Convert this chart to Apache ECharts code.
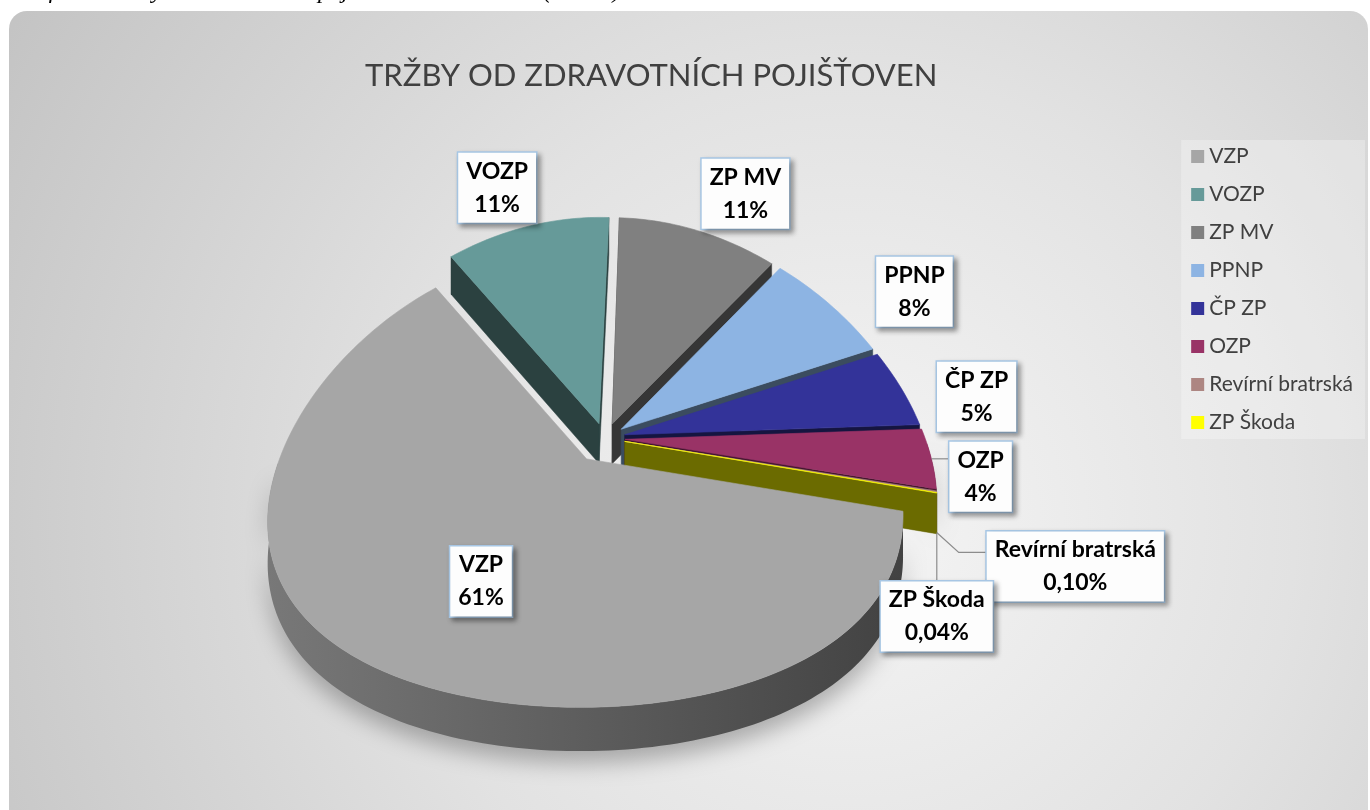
<!DOCTYPE html>
<html>
<head>
<meta charset="utf-8">
<script src="https://cdn.jsdelivr.net/npm/echarts@6.0.0/dist/echarts.min.js"></script>
<style>
html,body{margin:0;padding:0;background:#ffffff;}
#chart{width:1370px;height:810px;}
</style>
</head>
<body>
<div id="chart"></div>
<script>
// ---------------- data ----------------
const captionText = 'Graf 19 – Tržby od zdravotních pojišťoven v roce 2022 (tis. Kč)';
const titleText = 'TRŽBY OD ZDRAVOTNÍCH POJIŠŤOVEN';
const categories = ['VZP', 'VOZP', 'ZP MV', 'PPNP', 'ČP ZP', 'OZP', 'Revírní bratrská', 'ZP Škoda'];
const shares = [61.1, 10.9, 10.6, 7.8, 5.3, 4.2, 0.10, 0.04];
const colors = ['#a6a6a6', '#669a99', '#808080', '#8db4e3', '#333399', '#993366', '#ad8682', '#ffff00'];

// ---------------- 3D pie geometry ----------------
const G = {cx: 605, cy: 438, W: 300, S: 225, kx: 0.25, ky: 0.08, depth: 40, startAngle: -13,
  explode: [0.11, 0.067, 0.067, 0.067, 0.067, 0.067, 0.067, 0.067]};
const total = shares.reduce((a, b) => a + b, 0);
const slices = [];
(function () {
  let a = G.startAngle;
  shares.forEach(v => {
    const span = v / total * 360;
    slices.push({s: a, e: a - span, m: a - span / 2});
    a -= span;
  });
})();
const RAD = Math.PI / 180;
function proj(X, Z, Y) {
  const px = 1 / (1 + G.kx * Z), py = 1 / (1 + G.ky * Z);
  return [G.cx + X * G.W * px, G.cy - Z * G.S * py + (Y || 0) * G.depth * py];
}
function slicePoint(i, t, r, y) {
  const m = slices[i].m * RAD, a = t * RAD, ex = G.explode[i];
  const X = ex * Math.cos(m) + r * Math.cos(a);
  const Z = ex * Math.sin(m) + r * Math.sin(a);
  return proj(X, Z, y);
}
function arcAngles(s, e) {
  const n = Math.max(2, Math.ceil(Math.abs(s - e) / 1.2));
  const arr = [];
  for (let k = 0; k <= n; k++) arr.push(s + (e - s) * k / n);
  return arr;
}
function shade(hex, f) {
  const n = parseInt(hex.slice(1), 16);
  const r = (n >> 16) & 255, g = (n >> 8) & 255, b = n & 255;
  return 'rgb(' + Math.round(r * f) + ',' + Math.round(g * f) + ',' + Math.round(b * f) + ')';
}
// painter order: back slices first
const order = slices.map((s, i) => i).sort((a, b) => Math.sin(slices[b].m * RAD) - Math.sin(slices[a].m * RAD));
const depthRank = [];
order.forEach((idx, r) => { depthRank[idx] = r; });

function pctText(v) {
  const p = v / total * 100;
  return p >= 1 ? Math.round(p) + '%' : p.toFixed(2).replace('.', ',') + '%';
}

// label layout rules (like pie label / labelLine length settings)
const labelRules = {
  inside: {r: 0.76},
  outside: {r: 1.25, dx: 5, dy: 18},
  leader: {5: {from: 0, len: [18, 0], dy: 18, side: 'left'},
           6: {from: 1, len: [22, 20, 50, 20], dy: 14, side: 'left'},
           7: {from: 1, len: [0, 48], dy: 0, side: 'top'}}
};

const boxStyle = {
  fill: '#000000', font: 'bold 23px Lato', lineHeight: 33,
  backgroundColor: '#fdfdfd', borderColor: '#a8c8e6', borderWidth: 1.5,
  padding: [2, 8, 2, 8],
  shadowBlur: 5, shadowColor: 'rgba(0,0,0,0.35)', shadowOffsetX: 3, shadowOffsetY: 3
};
const measureCtx = document.createElement('canvas').getContext('2d');
function boxWidth(text) {
  measureCtx.font = boxStyle.font;
  const w = Math.max.apply(null, text.split('\n').map(s => measureCtx.measureText(s).width));
  return w + boxStyle.padding[1] + boxStyle.padding[3];
}

// ---------------- series ----------------
const wallSeries = {
  type: 'custom', name: 'walls', coordinateSystem: 'none', z: 2, silent: true,
  data: shares.map((v, i) => [i, v]),
  renderItem: function (params, api) {
    const i = params.dataIndex, sl = slices[i], col = colors[i];
    const base = depthRank[i] * 10;
    const children = [];
    const apex0 = slicePoint(i, sl.m, 0, 0), apex1 = slicePoint(i, sl.m, 0, 1);
    [[sl.s, sl.s + 90], [sl.e, sl.e - 90]].forEach(([t, nrm]) => {
      if (Math.sin(nrm * RAD) < 0.15) {
        const c0 = slicePoint(i, t, 1, 0), c1 = slicePoint(i, t, 1, 1);
        children.push({type: 'polygon', z2: base + 1,
          shape: {points: [apex0, c0, c1, apex1]},
          style: {fill: shade(col, 0.42), stroke: shade(col, 0.42), lineWidth: 0.5}});
      }
    });
    let run = [];
    const flush = () => {
      if (run.length > 1) {
        const top = run.map(t => slicePoint(i, t, 1, 0));
        const bot = run.slice().reverse().map(t => slicePoint(i, t, 1, 1));
        children.push({type: 'polygon', z2: base + 2,
          shape: {points: top.concat(bot)},
          style: {
            fill: {type: 'linear', x: 0, y: 0, x2: 1, y2: 0,
              colorStops: [{offset: 0, color: shade(col, 0.72)}, {offset: 1, color: shade(col, 0.4)}]},
            shadowBlur: 22, shadowColor: 'rgba(0,0,0,0.28)', shadowOffsetY: 12
          }});
      }
      run = [];
    };
    arcAngles(sl.s, sl.e).forEach(t => {
      if (Math.sin(t * RAD) <= 0.001) run.push(t); else flush();
    });
    flush();
    return {type: 'group', children: children};
  }
};

const topSeries = categories.map((name, i) => ({
  type: 'custom', name: name, coordinateSystem: 'none', z: 3,
  itemStyle: {color: colors[i]},
  data: [[shares[i]]],
  renderItem: function (params, api) {
    const sl = slices[i];
    const pts = [slicePoint(i, sl.m, 0, 0)].concat(arcAngles(sl.s, sl.e).map(t => slicePoint(i, t, 1, 0)));
    return {type: 'polygon', shape: {points: pts},
      style: {fill: api.visual('color'), stroke: api.visual('color'), lineWidth: 0.6}};
  }
}));

const labelSeries = {
  type: 'custom', name: 'labels', coordinateSystem: 'none', z: 5, silent: true,
  data: shares.map((v, i) => [i, v]),
  renderItem: function (params, api) {
    const i = params.dataIndex, v = api.value(1), sl = slices[i];
    const text = categories[i] + '\n' + pctText(v);
    const m = sl.m * RAD;
    const children = [];
    let x, y, vAlign = 'middle';
    const lead = labelRules.leader[i];
    if (lead) {
      const p0 = slicePoint(i, sl.m, 1, lead.from);
      const pts = [p0];
      for (let k = 0; k < lead.len.length; k += 2) pts.push([p0[0] + lead.len[k], p0[1] + lead.len[k + 1]]);
      children.push({type: 'polyline', shape: {points: pts}, style: {stroke: '#8c8c8c', lineWidth: 1.2, fill: null}});
      const last = pts[pts.length - 1];
      if (lead.side === 'left') {
        x = last[0] + boxWidth(text) / 2; y = last[1] + lead.dy;
      } else {
        x = last[0]; y = last[1] + lead.dy; vAlign = 'top';
      }
    } else if (v / total > 0.3) {
      x = G.cx + labelRules.inside.r * G.W * Math.cos(m);
      y = G.cy - labelRules.inside.r * G.S * Math.sin(m);
    } else {
      const o = labelRules.outside;
      x = G.cx + o.dx + o.r * G.W * Math.cos(m);
      y = G.cy + o.dy - o.r * G.S * Math.sin(m);
    }
    children.push({type: 'text', x: x, y: y, z2: 5,
      style: Object.assign({text: text, align: 'center', verticalAlign: vAlign}, boxStyle)});
    return {type: 'group', children: children};
  }
};

// ---------------- chart ----------------
const chart = echarts.init(document.getElementById('chart'), null, {renderer: 'canvas'});
chart.setOption({
  animation: false,
  backgroundColor: '#ffffff',
  title: {
    text: titleText, left: 365, top: 60, padding: 0,
    textStyle: {fontFamily: 'Lato', fontSize: 31, fontWeight: 'normal', color: '#404040'}
  },
  legend: {
    data: categories, orient: 'vertical', right: 5, top: 140,
    icon: 'rect', itemWidth: 13, itemHeight: 13, itemGap: 17,
    padding: [6, 12, 6, 10],
    backgroundColor: 'rgba(255,255,255,0.28)',
    textStyle: {fontFamily: 'Lato', fontSize: 21, lineHeight: 21, color: '#404040'}
  },
  graphic: [
    {type: 'rect', z: -10, silent: true,
      shape: {x: 9, y: 11, width: 1359, height: 830, r: 18},
      style: {fill: {type: 'radial', x: 850, y: 520, r: 990, global: true,
        colorStops: [{offset: 0, color: '#f5f5f5'}, {offset: 0.45, color: '#e2e2e2'}, {offset: 1, color: '#c3c3c3'}]}}},
    {type: 'text', x: 10, y: -20, z: -5, silent: true,
      style: {text: captionText, font: 'italic 24px "Liberation Serif"', fill: '#000000', verticalAlign: 'top'}}
  ],
  series: [wallSeries].concat(topSeries, [labelSeries])
});
</script>
</body>
</html>
